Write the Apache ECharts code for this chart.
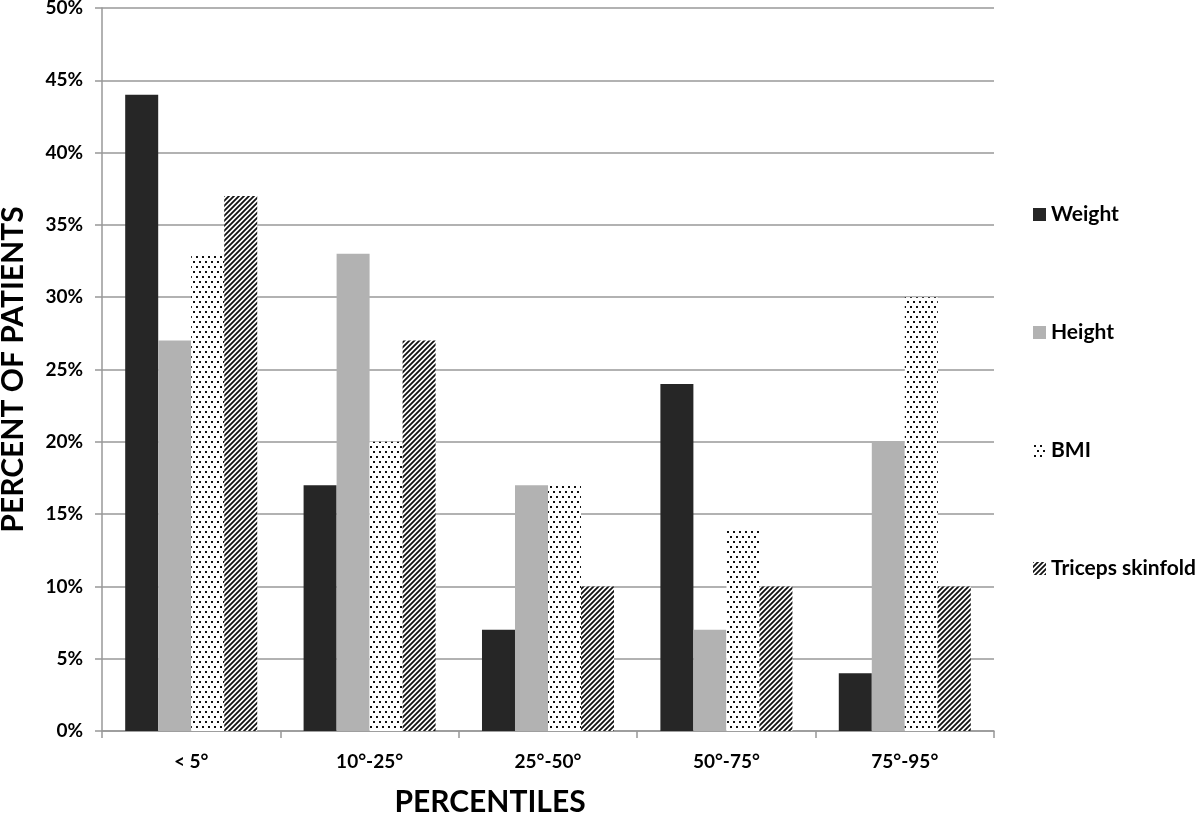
<!DOCTYPE html>
<html>
<head>
<meta charset="utf-8">
<script src="https://cdn.jsdelivr.net/npm/echarts@6/dist/echarts.min.js"></script>
<style>
html,body{margin:0;padding:0;background:#fff;}
#chart{width:1200px;height:814px;}
</style>
</head>
<body>
<div id="chart"></div>
<script>
const categories = ['< 5°', '10°-25°', '25°-50°', '50°-75°', '75°-95°'];
const weight = [44, 17, 7, 24, 4];
const height = [27, 33, 17, 7, 20];
const bmi = [33, 20, 17, 14, 30];
const triceps = [37, 27, 10, 10, 10];
const seriesNames = ['Weight', 'Height', 'BMI', 'Triceps skinfold'];
const yTicks = [0, 5, 10, 15, 20, 25, 30, 35, 40, 45, 50];

function dotPattern() {
  const c = document.createElement('canvas');
  c.width = 6; c.height = 10;
  const g = c.getContext('2d');
  g.fillStyle = '#fff'; g.fillRect(0, 0, 6, 10);
  g.fillStyle = '#111';
  g.fillRect(1, 1, 2, 2);
  g.fillRect(4, 6, 2, 2);
  return c;
}
function hatchPattern() {
  const c = document.createElement('canvas');
  const s = 5;
  c.width = s; c.height = s;
  const g = c.getContext('2d');
  g.fillStyle = '#fff'; g.fillRect(0, 0, s, s);
  g.strokeStyle = '#111';
  g.lineWidth = 1.8;
  g.beginPath();
  g.moveTo(-1, s + 1); g.lineTo(s + 1, -1);
  g.moveTo(-1, 1); g.lineTo(1, -1);
  g.moveTo(s - 1, s + 1); g.lineTo(s + 1, s - 1);
  g.stroke();
  return c;
}
const dotFill = { image: dotPattern(), repeat: 'repeat' };
const hatchFill = { image: hatchPattern(), repeat: 'repeat' };

const fontFam = 'Lato, "Open Sans", sans-serif';
const chart = echarts.init(document.getElementById('chart'));
const mk = (name, data, color) => ({
  name, type: 'bar', data, barGap: '0%', barCategoryGap: '26%',
  itemStyle: { color }
});
chart.setOption({
  animation: false,
  backgroundColor: '#fff',
  grid: { left: 102, right: 206, top: 8, bottom: 83, outerBoundsMode: 'none', containLabel: false },
  legend: {
    orient: 'vertical', left: 1028, top: 199, itemGap: 97,
    itemWidth: 13, itemHeight: 13, icon: 'rect',
    textStyle: { fontFamily: fontFam, fontWeight: 'bold', fontSize: 21, color: '#000' },
    data: seriesNames
  },
  xAxis: {
    type: 'category', data: categories,
    name: 'PERCENTILES', nameLocation: 'middle', nameGap: 56,
    nameTextStyle: { fontFamily: fontFam, fontWeight: 'bold', fontSize: 30, color: '#000', padding: [0, 116, 0, 0] },
    axisLine: { lineStyle: { color: '#989898', width: 1.5 } },
    axisTick: { show: true, length: 7, lineStyle: { color: '#989898', width: 1.5 } },
    axisLabel: { margin: 21, fontFamily: fontFam, fontWeight: 'bold', fontSize: 19, color: '#000' }
  },
  yAxis: {
    type: 'value', min: 0, max: 50, interval: 5,
    name: 'PERCENT OF PATIENTS', nameLocation: 'middle', nameGap: 74, nameRotate: 90,
    nameTextStyle: { fontFamily: fontFam, fontWeight: 'bold', fontSize: 30, color: '#000' },
    axisLine: { show: true, lineStyle: { color: '#989898', width: 1.5 } },
    axisTick: { show: true, length: 7, lineStyle: { color: '#989898', width: 1.5 } },
    splitLine: { lineStyle: { color: '#989898', width: 1.5 } },
    axisLabel: {
      margin: 19, fontFamily: fontFam, fontWeight: 'bold', fontSize: 19, color: '#000',
      formatter: v => yTicks.includes(v) ? v + '%' : ''
    }
  },
  series: [
    mk(seriesNames[0], weight, '#262626'),
    mk(seriesNames[1], height, '#b2b2b2'),
    mk(seriesNames[2], bmi, dotFill),
    mk(seriesNames[3], triceps, hatchFill)
  ]
});
</script>
</body>
</html>
